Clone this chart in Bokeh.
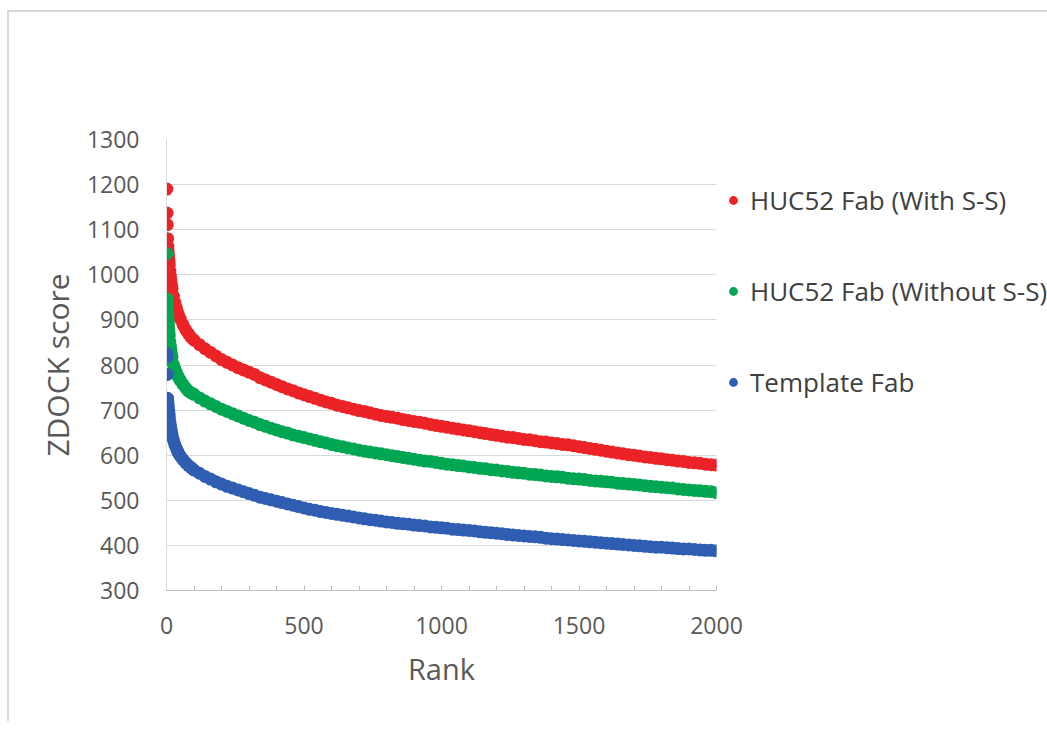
from bokeh.plotting import figure
from bokeh.models import Legend, LegendItem, FixedTicker, Range1d
from bokeh.embed import file_html
from bokeh.resources import INLINE

# Docking rank (x) shared by all three series
rank = [1, 2, 3, 4, 5, 6, 7, 8, 9, 10, 12, 14, 16, 18, 20, 25, 30, 35, 40, 45,
        50, 60, 70, 80, 90] + list(range(100, 2001, 20))

# ZDOCK scores per series
huc52_with_ss = [
    1190, 1137, 1111, 1080, 1063, 1052, 1043, 1035, 1028, 1021, 1008, 997, 987, 978, 970,
    953, 939, 928, 918, 909, 902, 889, 878, 869, 861,
    855, 845, 836, 828, 820, 812, 806, 800, 794, 789,
    784, 779, 772, 767, 762, 757, 752, 747, 743, 738,
    734, 730, 726, 722, 718, 715, 711, 708, 705, 702,
    699, 697, 694, 691, 688, 686, 684, 682, 679, 677,
    675, 673, 671, 668, 666, 664, 662, 660, 658, 656,
    654, 652, 650, 648, 646, 644, 642, 640, 639, 637,
    635, 634, 632, 630, 629, 627, 626, 624, 623, 621,
    619, 617, 615, 613, 611, 609, 607, 605, 603, 601,
    600, 598, 596, 595, 593, 592, 590, 589, 587, 586,
    584, 583, 582, 580, 579, 578,
]

huc52_without_ss = [
    1047, 947, 941, 925, 912, 900, 890, 880, 872, 865, 852, 842, 833, 825, 817,
    801, 792, 784, 777, 771, 766, 757, 749, 742, 738,
    735, 727, 720, 714, 708, 702, 697, 692, 687, 682,
    677, 673, 668, 664, 660, 656, 652, 649, 645, 642,
    639, 636, 633, 630, 627, 624, 621, 619, 616, 614,
    611, 609, 607, 605, 603, 601, 599, 597, 595, 593,
    591, 589, 587, 586, 584, 582, 580, 579, 577, 576,
    574, 573, 571, 570, 568, 567, 565, 564, 562, 561,
    560, 558, 557, 556, 554, 553, 552, 551, 549, 548,
    547, 546, 544, 543, 542, 541, 540, 538, 537, 536,
    535, 534, 532, 531, 530, 529, 528, 527, 525, 524,
    523, 522, 521, 520, 519, 517,
]

template_fab = [
    826, 818, 779, 726, 719, 712, 705, 698, 692, 686, 676, 667, 659, 652, 646,
    634, 624, 616, 609, 603, 598, 590, 583, 577, 572,
    567, 560, 553, 547, 541, 536, 531, 527, 523, 519,
    515, 511, 507, 504, 501, 498, 495, 492, 489, 486,
    483, 480, 478, 475, 473, 471, 469, 467, 465, 463,
    461, 459, 457, 456, 454, 452, 451, 449, 448, 447,
    445, 444, 443, 441, 440, 439, 438, 436, 435, 434,
    433, 432, 430, 429, 428, 427, 426, 424, 423, 422,
    421, 420, 419, 418, 416, 415, 414, 413, 412, 411,
    410, 409, 408, 407, 406, 405, 404, 403, 402, 401,
    400, 399, 398, 397, 396, 396, 395, 394, 393, 392,
    392, 391, 390, 389, 389, 388,
]

series_names = ["HUC52 Fab (With S-S)", "HUC52 Fab (Without S-S)", "Template Fab"]
series_colors = ["#EC2326", "#00A651", "#2E5DB2"]
x_ticks = [0, 500, 1000, 1500, 2000]
x_minor_ticks = list(range(0, 2001, 100))
y_ticks = list(range(300, 1301, 100))

FONT = "Open Sans"
TEXT = "#595959"

p = figure(
    frame_width=550, frame_height=451,
    x_range=Range1d(0, 2000), y_range=Range1d(300, 1300),
    min_border_left=157, min_border_top=127, min_border_right=0, min_border_bottom=131,
    output_backend="svg", toolbar_location=None,
)
p.styles = {
    "margin-left": "7px", "margin-top": "10px",
    "border-left": "2px solid #d9d9d9", "border-top": "2px solid #d9d9d9",
}
p.outline_line_color = None
p.background_fill_color = "white"
p.border_fill_color = "white"

renderers = []
for ys, color in zip([huc52_with_ss, huc52_without_ss, template_fab], series_colors):
    r = p.scatter(rank, ys, size=13, marker="circle", fill_color=color, line_color=None)
    renderers.append(r)

# Axes
p.xaxis.ticker = FixedTicker(ticks=x_ticks, minor_ticks=x_minor_ticks)
p.xaxis.axis_line_color = "#bfbfbf"
p.xaxis.major_tick_line_color = "#bfbfbf"
p.xaxis.minor_tick_line_color = "#bfbfbf"
p.xaxis.major_tick_in = 5
p.xaxis.major_tick_out = 0
p.xaxis.minor_tick_in = 5
p.xaxis.minor_tick_out = 0
p.xaxis.major_label_standoff = 26
p.xaxis.axis_label = "Rank"
p.xaxis.axis_label_standoff = 12

p.yaxis.ticker = FixedTicker(ticks=y_ticks)
p.yaxis.axis_line_color = "#d9d9d9"
p.yaxis.major_tick_line_color = None
p.yaxis.minor_tick_line_color = None
p.yaxis.major_label_standoff = 21
p.yaxis.axis_label = "ZDOCK score"
p.yaxis.axis_label_standoff = 6

for ax in (p.xaxis, p.yaxis):
    ax.major_label_text_font = FONT
    ax.major_label_text_font_size = "23px"
    ax.major_label_text_color = TEXT
    ax.axis_label_text_font = FONT
    ax.axis_label_text_font_style = "normal"
    ax.axis_label_text_color = TEXT
p.xaxis.axis_label_text_font_size = "29px"
p.yaxis.axis_label_text_font_size = "30px"

p.xgrid.visible = False
p.ygrid.grid_line_color = "#d9d9d9"
p.ygrid.grid_line_width = 1

legend = Legend(
    items=[LegendItem(label=n, renderers=[r]) for n, r in zip(series_names, renderers)],
    location=(6, 190),
    glyph_width=22, glyph_height=22, label_height=24,
    spacing=55, padding=0, margin=0, label_standoff=6,
    border_line_color=None, background_fill_alpha=0,
    label_text_font=FONT, label_text_font_size="26px", label_text_color="#404040",
)
p.add_layout(legend, "right")

open("out.html", "w").write(file_html(p, INLINE))
